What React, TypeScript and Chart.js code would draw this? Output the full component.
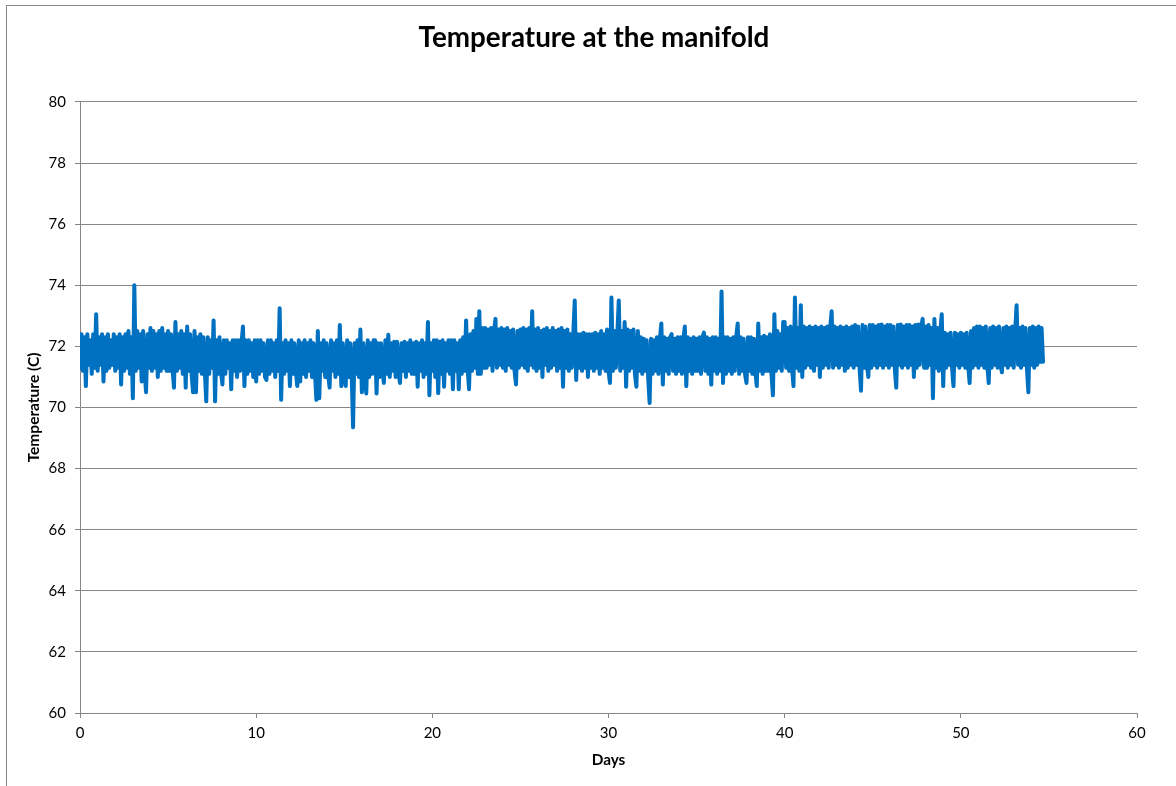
import React, { useEffect, useRef } from "react";
import { Chart, registerables } from "chart.js";

Chart.register(...registerables);

const TITLE = "Temperature at the manifold";
const X_TITLE = "Days";
const Y_TITLE = "Temperature (C)";
const X_TICKS = [0, 10, 20, 30, 40, 50, 60];
const Y_TICKS = [60, 62, 64, 66, 68, 70, 72, 74, 76, 78, 80];
const SAMPLES_PER_DAY = 12;

// Temperature readings (C): one row per day, twelve readings per day (every 2 h)
const dailyReadings: number[][] = [
  [71.3, 72.4, 71.2, 72.3, 70.7, 72.4, 71.4, 72.2, 71.1, 72.4, 71.3, 73.05],
  [71.2, 72.3, 71.4, 72.4, 70.85, 72.3, 71.2, 72.4, 71.3, 72.2, 71.4, 72.4],
  [71.2, 72.3, 71.3, 72.4, 70.75, 72.3, 71.2, 72.4, 71.3, 72.5, 71.1, 72.3],
  [70.3, 74.0, 71.2, 72.5, 71.3, 72.4, 70.85, 72.5, 71.2, 70.5, 72.4, 71.3],
  [72.6, 71.2, 72.5, 71.3, 72.4, 71.0, 72.5, 71.2, 72.6, 71.3, 72.4, 71.2],
  [72.5, 71.2, 72.4, 71.3, 70.65, 72.8, 71.2, 72.4, 71.3, 72.5, 71.1, 72.4],
  [70.65, 72.65, 71.2, 72.4, 71.1, 70.5, 72.5, 70.5, 72.3, 71.2, 72.4, 71.1],
  [72.3, 71.2, 70.2, 72.3, 71.1, 72.2, 71.3, 72.85, 70.2, 72.2, 71.1, 72.3],
  [71.2, 70.75, 72.2, 71.1, 72.2, 71.3, 72.1, 70.6, 72.2, 71.2, 72.2, 71.0],
  [72.2, 71.2, 72.1, 72.65, 70.7, 72.2, 71.1, 72.2, 71.2, 72.1, 71.0, 72.2],
  [70.85, 72.2, 71.1, 72.2, 71.2, 72.1, 71.0, 70.9, 72.2, 71.1, 72.2, 71.2],
  [72.1, 71.0, 72.2, 71.2, 73.25, 70.25, 72.1, 71.1, 72.2, 71.2, 72.1, 70.7],
  [72.2, 71.1, 72.1, 71.2, 70.7, 72.2, 70.85, 72.1, 71.1, 72.2, 71.0, 72.1],
  [71.2, 72.2, 71.0, 72.1, 71.2, 70.25, 72.5, 70.3, 72.1, 71.2, 72.2, 71.0],
  [72.1, 71.1, 70.65, 72.2, 71.2, 72.1, 71.0, 72.2, 71.1, 72.7, 70.7, 72.1],
  [71.1, 70.7, 72.2, 71.0, 72.1, 71.2, 69.35, 72.1, 71.1, 72.2, 71.0, 72.55],
  [70.5, 72.1, 71.1, 70.46, 72.2, 71.0, 72.1, 71.1, 72.2, 72.2, 70.46, 72.1],
  [71.0, 72.1, 71.2, 70.8, 72.2, 71.1, 72.38, 71.0, 72.1, 71.2, 72.15, 71.0],
  [72.15, 71.1, 70.8, 72.1, 71.2, 72.15, 71.0, 72.1, 71.2, 72.2, 71.1, 72.1],
  [71.1, 72.15, 70.68, 72.1, 71.2, 72.2, 71.0, 72.1, 71.1, 72.8, 70.4, 72.1],
  [71.2, 72.2, 71.0, 72.2, 70.47, 72.15, 71.1, 72.2, 70.68, 72.1, 71.2, 72.2],
  [71.1, 72.2, 70.6, 72.2, 71.2, 72.1, 70.6, 72.2, 71.1, 72.3, 71.2, 72.85],
  [71.3, 70.6, 72.4, 71.2, 72.5, 71.3, 72.9, 71.1, 73.15, 71.1, 72.6, 71.3],
  [72.6, 71.3, 72.55, 71.4, 72.6, 71.2, 72.5, 72.9, 71.3, 72.55, 71.4, 72.6],
  [71.3, 72.55, 71.2, 72.6, 71.4, 72.5, 71.3, 72.55, 71.2, 70.75, 72.5, 71.3],
  [72.55, 71.4, 72.6, 71.3, 72.55, 71.2, 72.6, 71.4, 73.15, 71.3, 72.55, 71.2],
  [72.6, 71.3, 72.5, 71.0, 72.55, 71.4, 72.6, 71.2, 72.5, 71.3, 72.6, 71.4],
  [72.5, 71.2, 72.55, 71.3, 72.6, 70.68, 72.5, 71.3, 72.55, 71.2, 72.4, 71.3],
  [72.4, 73.5, 70.9, 72.4, 71.3, 72.4, 71.2, 72.45, 71.3, 72.4, 71.0, 72.4],
  [71.3, 72.4, 71.2, 72.45, 71.3, 72.4, 71.1, 72.5, 71.3, 72.4, 71.2, 72.55],
  [71.2, 70.8, 73.6, 71.2, 72.5, 71.3, 72.4, 73.5, 71.2, 72.5, 71.3, 72.8],
  [70.68, 72.55, 71.2, 72.5, 71.3, 72.55, 71.1, 70.68, 72.5, 71.2, 72.3, 71.1],
  [72.25, 71.2, 72.2, 71.0, 70.15, 72.25, 71.1, 72.2, 71.2, 72.3, 71.1, 72.25],
  [72.75, 70.75, 72.3, 71.2, 72.25, 71.1, 72.3, 72.4, 71.2, 72.25, 71.1, 72.3],
  [71.2, 72.3, 71.1, 72.25, 72.65, 70.7, 72.3, 71.2, 72.25, 71.1, 72.3, 71.2],
  [72.25, 71.2, 72.3, 71.1, 72.3, 72.45, 71.2, 72.3, 71.1, 72.25, 70.75, 72.3],
  [71.2, 72.3, 71.1, 72.25, 71.2, 73.8, 70.8, 72.3, 71.1, 72.3, 71.2, 72.25],
  [71.1, 72.3, 71.2, 72.3, 72.75, 71.1, 72.3, 71.2, 72.25, 71.1, 70.8, 72.3],
  [71.2, 72.3, 71.1, 72.25, 71.2, 70.7, 72.75, 71.2, 72.3, 71.1, 72.35, 71.2],
  [72.3, 71.2, 72.4, 71.1, 70.4, 73.05, 71.2, 72.5, 71.3, 72.4, 71.2, 72.8],
  [72.8, 71.3, 72.6, 71.2, 72.65, 71.3, 70.7, 73.6, 71.3, 72.6, 71.2, 73.35],
  [71.0, 72.65, 71.3, 72.6, 71.4, 72.65, 71.3, 72.6, 71.2, 72.65, 71.4, 72.6],
  [71.0, 72.65, 71.3, 72.6, 71.4, 72.65, 71.3, 72.6, 73.15, 71.3, 72.65, 71.4],
  [72.6, 71.3, 72.65, 71.4, 72.6, 71.2, 72.65, 71.3, 72.6, 71.4, 72.65, 71.3],
  [72.7, 71.4, 72.65, 71.3, 70.55, 72.7, 71.3, 72.65, 71.4, 71.0, 72.7, 71.3],
  [72.7, 71.4, 72.65, 71.3, 72.7, 71.4, 72.72, 71.3, 72.65, 71.4, 72.7, 71.3],
  [72.7, 71.4, 72.65, 71.3, 70.65, 72.7, 71.4, 72.72, 71.3, 72.65, 71.4, 72.7],
  [71.3, 72.7, 71.4, 72.65, 71.0, 72.7, 71.3, 72.72, 71.4, 72.65, 72.9, 71.3],
  [72.65, 71.3, 72.7, 71.4, 72.6, 70.3, 72.9, 71.3, 72.6, 71.2, 72.5, 73.05],
  [70.7, 72.45, 71.3, 72.4, 71.4, 72.45, 71.3, 70.7, 72.45, 71.4, 72.4, 71.3],
  [72.45, 71.4, 72.4, 71.3, 72.45, 71.4, 70.8, 72.5, 71.3, 72.6, 71.4, 72.65],
  [71.3, 72.65, 71.4, 72.6, 71.3, 72.65, 71.4, 70.8, 72.6, 71.3, 72.65, 71.4],
  [72.6, 71.3, 72.65, 71.4, 71.15, 72.6, 71.4, 72.65, 71.3, 72.6, 71.4, 72.65],
  [71.3, 72.5, 73.35, 71.4, 72.6, 71.3, 72.65, 71.4, 72.6, 71.3, 70.5, 72.6],
  [71.4, 72.65, 71.3, 72.6, 71.4, 72.65, 71.5, 72.6, 71.5],
];

const FONT = "Lato, 'Open Sans', sans-serif";
const GRID = "#868686";

export default function App() {
  const ref = useRef<HTMLCanvasElement | null>(null);

  useEffect(() => {
    if (!ref.current) return;
    const points = dailyReadings.flatMap((row, d) =>
      row.map((t, k) => ({ x: d + k / SAMPLES_PER_DAY, y: t }))
    );
    const chart = new Chart(ref.current, {
      type: "line",
      data: {
        datasets: [
          {
            data: points,
            borderColor: "#0070C0",
            backgroundColor: "#0070C0",
            borderWidth: 4,
            pointRadius: 0,
            tension: 0,
            borderCapStyle: "round",
            borderJoinStyle: "round",
            yAxisID: "y",
          },
        ],
      },
      options: {
        animation: false,
        responsive: false,
        layout: { padding: { top: 21, right: 0, bottom: 0, left: 12 } },
        plugins: {
          legend: { display: false },
          tooltip: { enabled: false },
          title: {
            display: true,
            text: TITLE,
            color: "#000",
            font: { family: FONT, size: 27.8, weight: "bold" },
            padding: { top: 0, bottom: 47.6 },
          },
        },
        scales: {
          x: {
            type: "linear",
            min: X_TICKS[0],
            max: X_TICKS[X_TICKS.length - 1],
            ticks: {
              stepSize: X_TICKS[1] - X_TICKS[0],
              color: "#000",
              font: { family: FONT, size: 15 },
              padding: 6,
              maxRotation: 0,
            },
            grid: {
              drawOnChartArea: false,
              drawTicks: true,
              tickLength: 5,
              color: GRID,
            },
            border: { display: true, color: GRID, width: 1 },
            title: {
              display: true,
              text: X_TITLE,
              color: "#000",
              font: { family: FONT, size: 15.3, weight: "bold" },
              padding: { top: 0, bottom: 17 },
            },
            afterFit: (s: any) => {
              s.height = 73;
            },
          },
          y: {
            position: "left",
            min: Y_TICKS[0],
            max: Y_TICKS[Y_TICKS.length - 1],
            ticks: {
              stepSize: Y_TICKS[1] - Y_TICKS[0],
              color: "#000",
              font: { family: FONT, size: 15 },
              padding: 9,
            },
            grid: {
              drawOnChartArea: true,
              drawTicks: true,
              tickLength: 5,
              color: GRID,
            },
            border: { display: true, color: GRID, width: 1 },
            title: {
              display: true,
              text: Y_TITLE,
              color: "#000",
              font: { family: FONT, size: 15.5, weight: "bold" },
              padding: { top: 13, bottom: 0 },
            },
            afterFit: (s: any) => {
              s.width = 68;
            },
          },
          yRight: {
            position: "right",
            display: true,
            ticks: { display: false },
            grid: { display: false },
            border: { display: false },
            afterFit: (s: any) => {
              s.width = 39;
            },
          },
        },
      },
    });
    return () => chart.destroy();
  }, []);

  return (
    <div
      style={{
        position: "fixed",
        left: 0,
        top: 0,
        width: 1176,
        height: 786,
        overflow: "hidden",
        background: "#fff",
      }}
    >
      <div
        style={{
          position: "absolute",
          left: 6,
          top: 5,
          width: 1300,
          height: 900,
          border: "1px solid #868686",
        }}
      />
      <canvas
        ref={ref}
        width={1176}
        height={786}
        style={{ position: "absolute", left: 0, top: 0, display: "block" }}
      />
    </div>
  );
}
